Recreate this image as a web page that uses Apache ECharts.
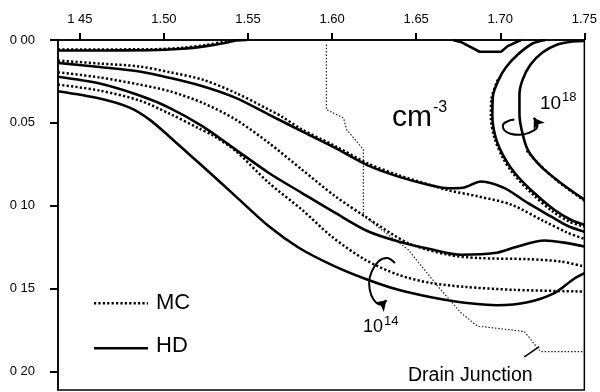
<!DOCTYPE html>
<html><head><meta charset="utf-8">
<script src="https://cdn.jsdelivr.net/npm/echarts@6/dist/echarts.min.js"></script>
<style>html,body{margin:0;padding:0;background:#fff}#c{width:600px;height:392px}</style>
</head><body><div id="c"></div>
<script>
// Tick values and their printed labels (as they appear on the scan)
const xTickValues = [1.45, 1.50, 1.55, 1.60, 1.65, 1.70, 1.75];
const xTickLabels = ['1 45', '1.50', '1.55', '1.60', '1.65', '1.70', '1.75'];
const yTickValues = [0, 0.05, 0.10, 0.15, 0.20];
const yTickLabels = ['0 00', '0.05', '0 10', '0 15', '0 20'];

// Contour lines (x = lateral position, y = depth)
const hdAX = [1.437, 1.4618, 1.4914, 1.5109, 1.5250, 1.5368, 1.5427, 1.5494];
const hdAY = [0.0063, 0.0063, 0.0062, 0.0053, 0.0037, 0.0017, 0.0003, 0];
const mcAX = [1.437, 1.4914, 1.5109, 1.5250, 1.5368, 1.5447];
const mcAY = [0.0057, 0.0056, 0.0047, 0.0030, 0.0009, 0];
const hdDipX = [1.6719, 1.6768, 1.6877, 1.7005, 1.7044, 1.7123];
const hdDipY = [0, 0.0013, 0.0071, 0.0071, 0.0037, 0];

const mcBX = [1.437, 1.4618, 1.4855, 1.5033, 1.5230, 1.5427, 1.5624, 1.5701, 1.5821, 1.6019, 1.6216, 1.6394, 1.6571, 1.6689, 1.6867, 1.7064, 1.7262, 1.7399, 1.75];
const mcBY = [0.0124, 0.0142, 0.0160, 0.0194, 0.0239, 0.0319, 0.0420, 0.0462, 0.0540, 0.0640, 0.0746, 0.0815, 0.0870, 0.0906, 0.0943, 0.0993, 0.1094, 0.1162, 0.1199];
const hdCX = [1.437, 1.4618, 1.4855, 1.5033, 1.5230, 1.5427, 1.5624, 1.5821, 1.6019, 1.6216, 1.6394, 1.6571, 1.6689, 1.6778, 1.6886, 1.7025, 1.7163, 1.7301, 1.7399, 1.75];
const hdCY = [0.0138, 0.0163, 0.0190, 0.0228, 0.0279, 0.0349, 0.0450, 0.0551, 0.0651, 0.0758, 0.0824, 0.0873, 0.0894, 0.0891, 0.0853, 0.0893, 0.0983, 0.1064, 0.1120, 0.1156];

const mcDX = [1.437, 1.4618, 1.4855, 1.5033, 1.5230, 1.5427, 1.5624, 1.5821, 1.6019, 1.6196, 1.6453, 1.6689, 1.6867, 1.7163, 1.7360, 1.75];
const mcDY = [0.0194, 0.0226, 0.0269, 0.0309, 0.0379, 0.0480, 0.0621, 0.0782, 0.0943, 0.1064, 0.1225, 0.1295, 0.1315, 0.1322, 0.1336, 0.1366];
const hdEX = [1.437, 1.4618, 1.4855, 1.5033, 1.5230, 1.5427, 1.5624, 1.5821, 1.6019, 1.6216, 1.6394, 1.6589, 1.6768, 1.6966, 1.7104, 1.7262, 1.7399, 1.75];
const hdEY = [0.0222, 0.0263, 0.0335, 0.0409, 0.0521, 0.0661, 0.0802, 0.0923, 0.1043, 0.1155, 0.1215, 0.1262, 0.1295, 0.1285, 0.1245, 0.1209, 0.1225, 0.1245];

const mcFX = [1.437, 1.4618, 1.4855, 1.5033, 1.5210, 1.5289, 1.5427, 1.5624, 1.5821, 1.5997, 1.6196, 1.6394, 1.6589, 1.6788, 1.7084, 1.75];
const mcFY = [0.0269, 0.0305, 0.0365, 0.0444, 0.0534, 0.0574, 0.0670, 0.0862, 0.1024, 0.1185, 0.1325, 0.1416, 0.1466, 0.1489, 0.1507, 0.1517];
const hdGX = [1.437, 1.4618, 1.4796, 1.4914, 1.5033, 1.5230, 1.5427, 1.5624, 1.5802, 1.5997, 1.6196, 1.6394, 1.6589, 1.6788, 1.6985, 1.7163, 1.7321, 1.7439, 1.75];
const hdGY = [0.0309, 0.0353, 0.0408, 0.0480, 0.0583, 0.0762, 0.0943, 0.1124, 0.1253, 0.1356, 0.1440, 0.1507, 0.1552, 0.1585, 0.1600, 0.1582, 0.1527, 0.1440, 0.1406];

const hdOuterX = [1.7269, 1.7192, 1.7104, 1.7033, 1.6991, 1.6956, 1.6953, 1.6973, 1.7021, 1.7086, 1.7202, 1.7321, 1.7419, 1.75];
const hdOuterY = [0, 0.0021, 0.0088, 0.0166, 0.0239, 0.0341, 0.0462, 0.0589, 0.0704, 0.0802, 0.0923, 0.1024, 0.1084, 0.1114];
const mcOuterX = [1.6985, 1.6947, 1.6944, 1.6965, 1.7012, 1.7077, 1.7192, 1.7310, 1.7411, 1.75];
const mcOuterY = [0.0239, 0.0359, 0.0462, 0.0589, 0.0704, 0.0806, 0.0930, 0.1033, 0.1096, 0.1126];
const hdInnerX = [1.75, 1.7429, 1.7340, 1.7251, 1.7180, 1.7133, 1.7114, 1.7114, 1.7127, 1.7163, 1.7241, 1.7360, 1.75];
const hdInnerY = [0.0006, 0.0009, 0.0027, 0.0075, 0.0148, 0.0239, 0.0329, 0.0440, 0.0541, 0.0661, 0.0762, 0.0862, 0.0963];
const mcInnerX = [1.7157, 1.7222, 1.7340, 1.75];
const mcInnerY = [0.0667, 0.0740, 0.0851, 0.0969];

// Drain junction boundary and annotation marks
const drainX = [1.5966, 1.5966, 1.6068, 1.6086, 1.6137, 1.6186, 1.6186, 1.6204, 1.6293, 1.6453, 1.6630, 1.6768, 1.6867, 1.6886, 1.7143, 1.7222, 1.7241, 1.75];
const drainY = [0.0027, 0.0420, 0.0470, 0.0540, 0.0601, 0.0661, 0.1064, 0.1072, 0.1144, 0.1265, 0.1487, 0.1647, 0.1728, 0.1728, 0.1758, 0.1859, 0.1879, 0.1879];
const leaderX = [1.7143, 1.7232];
const leaderY = [0.1911, 0.1849];
const curl18X = [1.7084, 1.7040, 1.7015, 1.7025, 1.7060, 1.7114, 1.7170, 1.7215, 1.7222, 1.7200];
const curl18Y = [0.0480, 0.0492, 0.0515, 0.0545, 0.0565, 0.0572, 0.0560, 0.0535, 0.0505, 0.0470];
const curl14X = [1.6374, 1.6324, 1.6275, 1.6236, 1.6220, 1.6232, 1.6265, 1.6295, 1.6322];
const curl14Y = [0.1345, 0.1315, 0.1336, 0.1396, 0.1466, 0.1537, 0.1587, 0.1597, 0.1570];

const zip = (xs, ys) => xs.map((x, i) => [x, ys[i]]);
const lastSeg = (xs, ys) => [[xs[xs.length - 2], ys[ys.length - 2]], [xs[xs.length - 1], ys[ys.length - 1]]];
const FONT = '"Liberation Sans", Arial, Helvetica, sans-serif';

function hd(xs, ys, smooth) {
  return { type: 'line', data: zip(xs, ys), showSymbol: false, smooth: smooth === undefined ? 0.3 : smooth,
    lineStyle: { color: '#000', width: 2.6 }, silent: true, z: 3 };
}
function mc(xs, ys, smooth) {
  return { type: 'line', data: zip(xs, ys), showSymbol: false, smooth: smooth === undefined ? 0.3 : smooth,
    lineStyle: { color: '#000', width: 2.5, type: [2.2, 2.2] }, silent: true, z: 2 };
}
function curl(xs, ys) {
  return { type: 'line', data: zip(xs, ys), showSymbol: false, smooth: 0.4, silent: true, z: 5,
    lineStyle: { color: '#000', width: 2 } };
}
function arrowHead(xs, ys) {
  return { type: 'lines', coordinateSystem: 'cartesian2d', silent: true, z: 6,
    symbol: ['none', 'arrow'], symbolSize: 10,
    lineStyle: { color: '#000', width: 2, opacity: 1, curveness: 0 },
    data: [{ coords: lastSeg(xs, ys) }] };
}
const lookup = (vals, labs) => v => { const i = vals.findIndex(t => Math.abs(t - v) < 1e-6); return i < 0 ? '' : labs[i]; };

const chart = echarts.init(document.getElementById('c'), null, { renderer: 'canvas' });
chart.setOption({
  animation: false,
  backgroundColor: '#fff',
  grid: { left: 58, right: 13, top: 40, bottom: 2, show: true, borderColor: '#000', borderWidth: 1.5, backgroundColor: 'transparent' },
  xAxis: {
    type: 'value', position: 'top', min: 1.437, max: 1.75,
    axisLine: { show: true, lineStyle: { color: '#000', width: 1.5 } },
    axisTick: { show: true, length: 7, customValues: xTickValues, lineStyle: { color: '#000', width: 2 } },
    axisLabel: { customValues: xTickValues, formatter: lookup(xTickValues, xTickLabels), margin: 14,
      color: '#000', fontSize: 13, fontFamily: FONT },
    splitLine: { show: false }
  },
  yAxis: {
    type: 'value', inverse: true, min: 0, max: 0.2111,
    axisLine: { show: true, lineStyle: { color: '#000', width: 1.5 } },
    axisTick: { show: true, length: 8, customValues: yTickValues, lineStyle: { color: '#000', width: 2 } },
    axisLabel: { customValues: yTickValues, formatter: lookup(yTickValues, yTickLabels), margin: 23,
      color: '#000', fontSize: 13, fontFamily: FONT },
    splitLine: { show: false }
  },
  series: [
    hd(hdAX, hdAY), mc(mcAX, mcAY), hd(hdDipX, hdDipY, false),
    mc(mcBX, mcBY), hd(hdCX, hdCY),
    mc(mcDX, mcDY), hd(hdEX, hdEY),
    mc(mcFX, mcFY), hd(hdGX, hdGY),
    hd(hdOuterX, hdOuterY), mc(mcOuterX, mcOuterY),
    hd(hdInnerX, hdInnerY), mc(mcInnerX, mcInnerY),
    { type: 'line', data: zip(drainX, drainY), showSymbol: false, smooth: false, silent: true, z: 1,
      lineStyle: { color: '#222', width: 1.2, type: [1.5, 1.8] } },
    { type: 'line', data: zip(leaderX, leaderY), showSymbol: false, silent: true, z: 4,
      lineStyle: { color: '#000', width: 1.5 } },
    curl(curl18X, curl18Y), arrowHead(curl18X, curl18Y),
    curl(curl14X, curl14Y), arrowHead(curl14X, curl14Y)
  ],
  graphic: [
    { type: 'line', shape: { x1: 94, y1: 303.3, x2: 148, y2: 303.3 }, style: { stroke: '#000', lineWidth: 2.4, lineDash: [2.2, 2.2] } },
    { type: 'line', shape: { x1: 94, y1: 348.3, x2: 148, y2: 348.3 }, style: { stroke: '#000', lineWidth: 2.6 } },
    { type: 'text', x: 156, y: 302.5, style: { text: 'MC', fontSize: 22, fontFamily: FONT, fill: '#000', align: 'left', verticalAlign: 'middle' } },
    { type: 'text', x: 156, y: 345.8, style: { text: 'HD', fontSize: 22, fontFamily: FONT, fill: '#000', align: 'left', verticalAlign: 'middle' } },
    { type: 'text', x: 392, y: 118, style: { text: 'cm', fontSize: 30, fontFamily: FONT, fill: '#000', align: 'left', verticalAlign: 'middle' } },
    { type: 'text', x: 433, y: 107.5, style: { text: '-3', fontSize: 16, fontFamily: FONT, fill: '#000', align: 'left', verticalAlign: 'middle' } },
    { type: 'text', x: 540, y: 103.5, style: { text: '10', fontSize: 19, fontFamily: FONT, fill: '#000', align: 'left', verticalAlign: 'middle' } },
    { type: 'text', x: 562, y: 97.5, style: { text: '18', fontSize: 13, fontFamily: FONT, fill: '#000', align: 'left', verticalAlign: 'middle' } },
    { type: 'text', x: 363, y: 326.7, style: { text: '10', fontSize: 18, fontFamily: FONT, fill: '#000', align: 'left', verticalAlign: 'middle' } },
    { type: 'text', x: 384, y: 321.5, style: { text: '14', fontSize: 13, fontFamily: FONT, fill: '#000', align: 'left', verticalAlign: 'middle' } },
    { type: 'text', x: 408, y: 376, style: { text: 'Drain Junction', fontSize: 19.5, fontFamily: FONT, fill: '#000', align: 'left', verticalAlign: 'middle' } }
  ]
});
</script></body></html>
